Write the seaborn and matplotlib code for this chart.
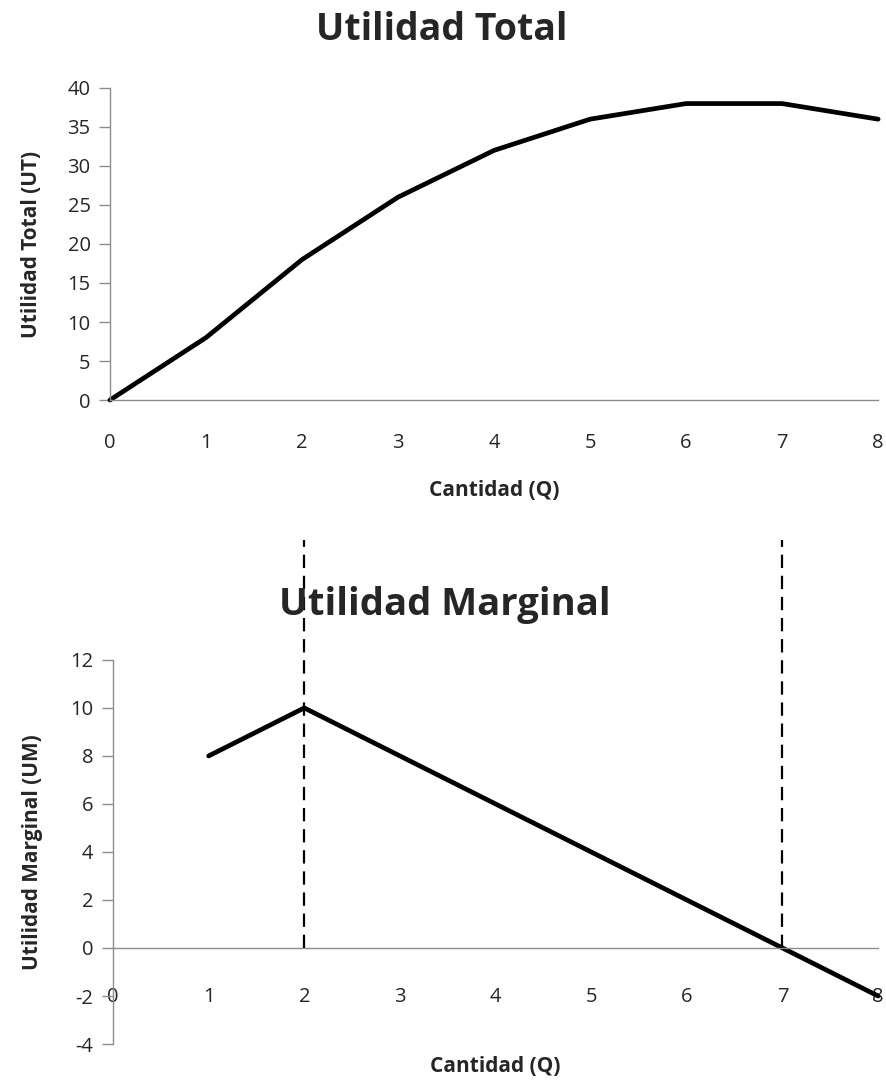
import matplotlib
matplotlib.use("Agg")
import matplotlib.pyplot as plt
import seaborn as sns
import pandas as pd

# Total utility by quantity
cantidad_ut = [0, 1, 2, 3, 4, 5, 6, 7, 8]
utilidad_total = [0, 8, 18, 26, 32, 36, 38, 38, 36]

# Marginal utility by quantity
cantidad_um = [1, 2, 3, 4, 5, 6, 7, 8]
utilidad_marginal = [8, 10, 8, 6, 4, 2, 0, -2]

# Reference quantities marked with dashed lines
q_marcas = [2, 7]

sns.set_theme(style="white")
plt.rcParams["font.family"] = ["Open Sans", "DejaVu Sans"]
plt.rcParams["axes.unicode_minus"] = False

AXIS_GRAY = "#8c8c8c"

fig = plt.figure(figsize=(8.87, 10.82), dpi=100)
ax1 = fig.add_axes([0.124, 0.6303, 0.866, 0.2884])
ax2 = fig.add_axes([0.1274, 0.0351, 0.8626, 0.355])

df_ut = pd.DataFrame({"Q": cantidad_ut, "UT": utilidad_total})
df_um = pd.DataFrame({"Q": cantidad_um, "UM": utilidad_marginal})

sns.lineplot(data=df_ut, x="Q", y="UT", ax=ax1, color="black", linewidth=3.4,
             solid_capstyle="round", clip_on=False)
sns.lineplot(data=df_um, x="Q", y="UM", ax=ax2, color="black", linewidth=3.4,
             solid_capstyle="round", clip_on=False)


def style_axes(ax):
    for side in ("top", "right"):
        ax.spines[side].set_visible(False)
    for side in ("left", "bottom"):
        ax.spines[side].set_color(AXIS_GRAY)
        ax.spines[side].set_linewidth(1.0)
    ax.tick_params(axis="y", direction="out", length=8, width=1.0,
                   color=AXIS_GRAY, labelsize=14.5, pad=6, left=True)
    ax.tick_params(axis="x", length=0, labelsize=14.5, pad=24)
    ax.grid(False)


# Top chart
ax1.set_xlim(0, 8)
ax1.set_ylim(0, 40)
ax1.set_xticks(range(0, 9))
ax1.set_yticks(range(0, 41, 5))
style_axes(ax1)
ax1.set_xlabel("Cantidad (Q)", fontsize=15, fontweight="bold")
ax1.xaxis.set_label_coords(0.5, -0.255)
ax1.set_ylabel("Utilidad Total (UT)", fontsize=15, fontweight="bold")
ax1.yaxis.set_label_coords(-0.088, 0.5)

# Bottom chart
ax2.set_xlim(0, 8)
ax2.set_ylim(-4, 12)
ax2.set_xticks(range(0, 9))
ax2.set_yticks(range(-4, 13, 2))
style_axes(ax2)
ax2.spines["bottom"].set_position(("data", 0))
ax2.tick_params(axis="x", pad=28)
ax2.set_xlabel("Cantidad (Q)", fontsize=15, fontweight="bold")
ax2.xaxis.set_label_coords(0.5, -0.03)
ax2.set_ylabel("Utilidad Marginal (UM)", fontsize=15, fontweight="bold")
ax2.yaxis.set_label_coords(-0.092, 0.5)

for q in q_marcas:
    ax2.plot([q, q], [0, 17], color="black", linewidth=1.6, linestyle=(0, (6, 3.5)),
             clip_on=False)

fig.text(0.4985, 0.972, "Utilidad Total", ha="center", va="center",
         fontsize=27, fontweight="bold")
fig.text(0.5015, 0.441, "Utilidad Marginal", ha="center", va="center",
         fontsize=27.5, fontweight="bold")

fig.savefig("out.png", dpi=100, facecolor="white")
